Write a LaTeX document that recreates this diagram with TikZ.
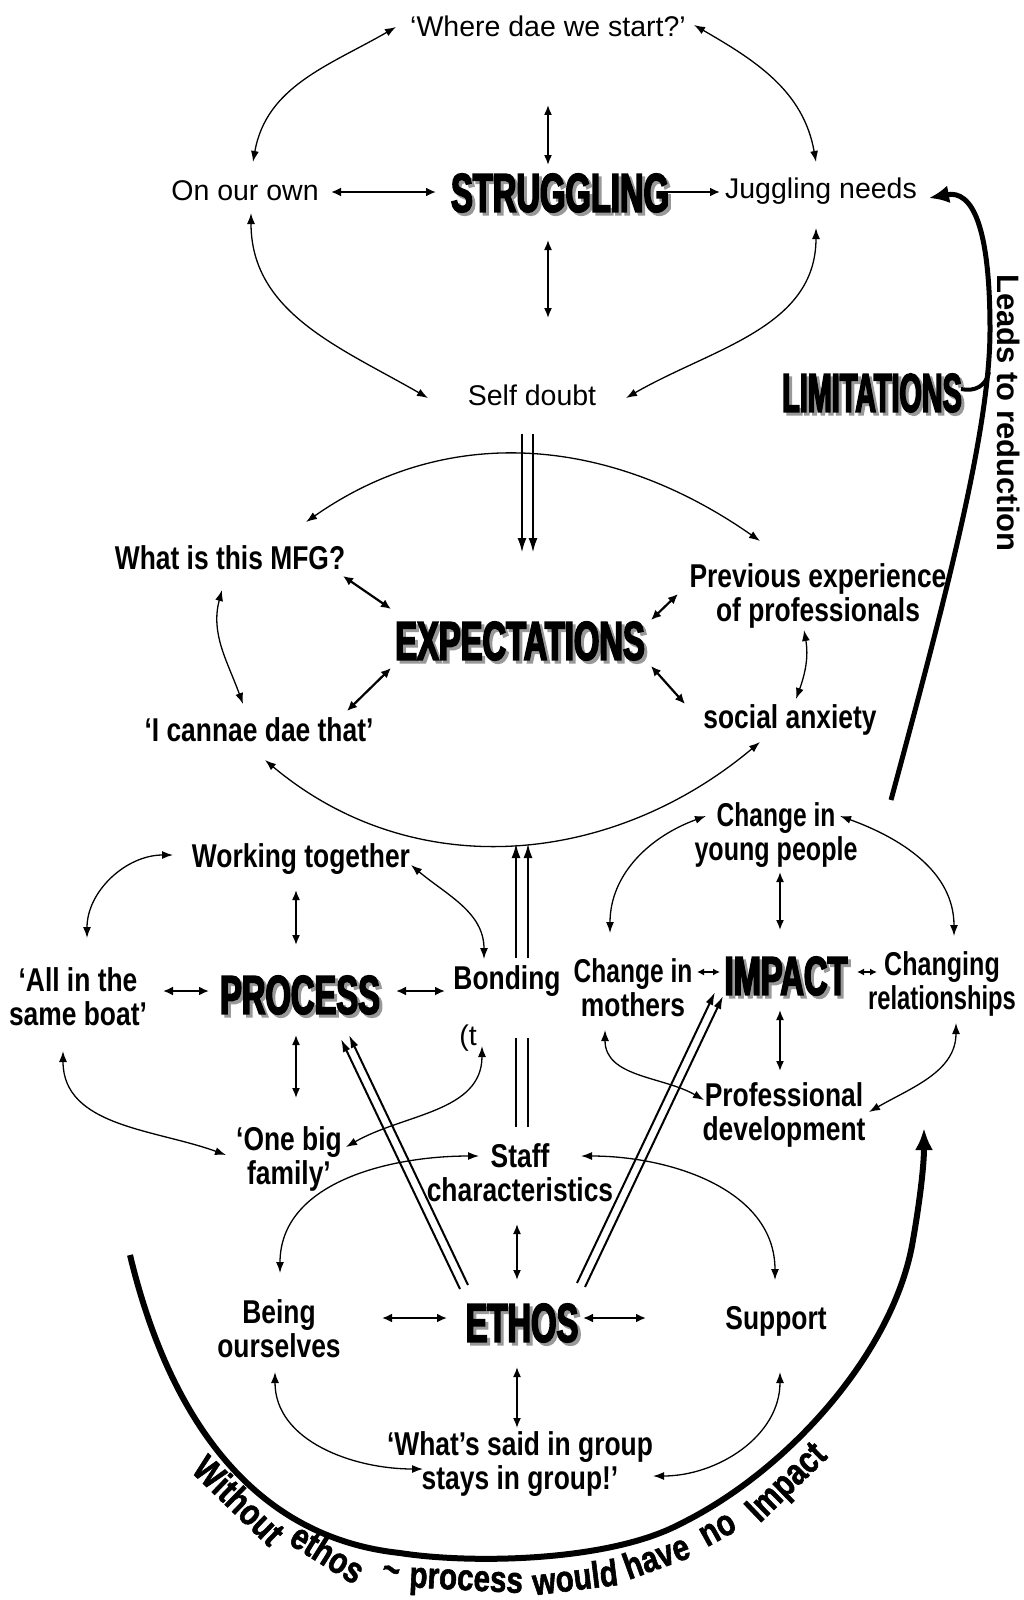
\documentclass[tikz,border=0pt]{standalone}
\usepackage{fontspec}
\usepackage{graphicx}
\setmainfont{Liberation Sans}
\newfontfamily\topfamily{Liberation Sans}
\newfontfamily\midfamily{Liberation Sans}[FakeStretch=0.8]
\newfontfamily\arcfamily{Liberation Sans}[FakeStretch=0.8,BoldFeatures={FakeBold=1.5}]
\newfontfamily\headfamily{Liberation Sans}[FakeStretch=0.6,BoldFeatures={FakeBold=3}]
\usetikzlibrary{arrows.meta}
\begin{document}
\begin{tikzpicture}[x=1pt,y=-1pt,
  toplab/.style={font=\topfamily\fontsize{28.5}{32}\selectfont, inner sep=0pt, align=center},
  midlab/.style={font=\midfamily\bfseries\fontsize{33}{34}\selectfont, inner sep=0pt, align=center},
  arcword/.style={font=\arcfamily\bfseries\fontsize{37}{38}\selectfont, inner sep=0pt},
  hd/.style={font=\headfamily\bfseries\fontsize{54.5}{56}\selectfont, inner sep=0pt},
  hdsh/.style={hd, text=black!40},
  curv/.style={line width=1.3pt, {Latex[length=11pt,width=8pt]}-{Latex[length=11pt,width=8pt]}},
  sarr/.style={line width=2.2pt, {Latex[length=10pt,width=9pt]}-{Latex[length=10pt,width=9pt]}},
  sone/.style={line width=2.2pt, -{Latex[length=10pt,width=9pt]}},
  varr/.style={line width=1.6pt, {Latex[length=10pt,width=8pt]}-{Latex[length=10pt,width=8pt]}},
  dbl/.style={line width=2.6pt, -{Latex[length=15pt,width=9pt]}},
  dbln/.style={line width=2.6pt},
  twin/.style={line width=2pt, -{Latex[length=13pt,width=8pt]}},
  thickarr/.style={line width=5pt, -{Latex[length=20pt,width=18pt]}},
  bigarr/.style={line width=6pt, -{Latex[length=22pt,width=18pt]}}
]
\fill[white] (0,0) rectangle (1024,1600);
\useasboundingbox (0,0) rectangle (1024,1600);

% ---------- STRUGGLING cluster ----------
\node[toplab] (W) at (548,26) {‘Where dae we start?’};
\node[toplab] (Own) at (245,191) {On our own};
\node[hdsh] at (563,196) {STRUGGLING};
\node[hd] (STR) at (560,193) {STRUGGLING};
\node[toplab] (Jug) at (821,191) {Juggling needs};
\node[toplab] (Self) at (532,395) {Self doubt};
\node[hdsh] at (875,396) {\scalebox{0.88}[1]{LIMITATIONS}};
\node[hd] (LIM) at (872,393) {\scalebox{0.88}[1]{LIMITATIONS}};

\draw[curv] ([shift={(-152,1)}]W.center) to[out=210,in=80] ([shift={(8,-29)}]Own.center);
\draw[curv] ([shift={(146,-1)}]W.center) to[out=-30,in=100] ([shift={(-5,-29)}]Jug.center);
\draw[curv] ([shift={(6,22)}]Own.center) to[out=270,in=150] ([shift={(-104,3)}]Self.center);
\draw[curv] ([shift={(-5,37)}]Jug.center) to[out=270,in=30] ([shift={(94,3)}]Self.center);
\draw[varr] ([shift={(-12,-28)}]STR.center) -- ([shift={(0,79)}]W.center);
\draw[varr] ([shift={(-12,47)}]STR.center) -- ([shift={(16,-77)}]Self.center);
\draw[sarr] ([shift={(86,1)}]Own.center) -- ([shift={(-124,-1)}]STR.center);
\draw[sone] ([shift={(108,-1)}]STR.center) -- ([shift={(-101,1)}]Jug.center);

% ---------- EXPECTATIONS cluster ----------
\node[midlab] (MFG) at (230,558) {What is this MFG?};
\node[midlab] (Prev) at (818,596) {Previous experience\\of professionals};
\node[hdsh] at (523,644) {EXPECTATIONS};
\node[hd] (EXP) at (520,641) {EXPECTATIONS};
\node[midlab] (Can) at (259,730) {‘I cannae dae that’};
\node[midlab] (Soc) at (790,720) {social anxiety};

\draw[curv] ([shift={(76,-36)}]MFG.center) to[out=35,in=145] ([shift={(-58,-55)}]Prev.center);
\draw[curv] ([shift={(6,30)}]Can.center) to[out=-40,in=220] ([shift={(-30,22)}]Soc.center);
\draw[curv] ([shift={(-8,32)}]MFG.center) to[out=255,in=110] ([shift={(-16,-26)}]Can.center);
\draw[curv] ([shift={(-14,34)}]Prev.center) to[out=280,in=70] ([shift={(6,-21)}]Soc.center);
\draw[sarr] ([shift={(113,18)}]MFG.center) -- ([shift={(-129,-32)}]EXP.center);
\draw[sarr] ([shift={(88,-19)}]Can.center) -- ([shift={(-129,27)}]EXP.center);
\draw[sarr] ([shift={(-140,-2)}]Prev.center) -- ([shift={(131,-21)}]EXP.center);
\draw[sarr] ([shift={(131,25)}]EXP.center) -- ([shift={(-105,-16)}]Soc.center);

\draw[dbl] ([shift={(-10,39)}]Self.center) -- ([shift={(2,-88)}]EXP.center);
\draw[dbl] ([shift={(1,39)}]Self.center) -- ([shift={(13,-88)}]EXP.center);

% ---------- PROCESS cluster ----------
\node[midlab] (Work) at (301,859) {Working together};
\node[midlab] (All) at (78,997) {‘All in the\\same boat’};
\node[hdsh] at (303,998) {PROCESS};
\node[hd] (PROC) at (300,995) {PROCESS};
\node[midlab] (Bond) at (507,981) {Bonding};
\node[toplab] (tt) at (468,1038) {(t};
\node[midlab] (One) at (289,1159) {‘One big\\family’};
\node[midlab] (Staff) at (520,1173) {Staff\\characteristics};

\draw[curv] ([shift={(-128,-4)}]Work.center) to[out=180,in=90] ([shift={(9,-59)}]All.center);
\draw[curv] ([shift={(110,6)}]Work.center) to[out=-40,in=90] ([shift={(-23,-22)}]Bond.center);
\draw[curv] ([shift={(-15,54)}]All.center) to[out=270,in=160] ([shift={(-63,-4)}]One.center);
\draw[curv] ([shift={(-25,65)}]Bond.center) to[out=270,in=30] ([shift={(57,-12)}]One.center);
\draw[varr] ([shift={(-5,31)}]Work.center) -- ([shift={(-4,-50)}]PROC.center);
\draw[varr] ([shift={(-4,40)}]PROC.center) -- ([shift={(7,-61)}]One.center);
\draw[sarr] ([shift={(85,-6)}]All.center) -- ([shift={(-91,-4)}]PROC.center);
\draw[sarr] ([shift={(96,-4)}]PROC.center) -- ([shift={(-62,10)}]Bond.center);

% Staff -> Expectations (broken double line)
\draw[dbln] ([shift={(-4,-46)}]Staff.center) -- ([shift={(9,57)}]Bond.center);
\draw[dbln] ([shift={(8,-46)}]Staff.center) -- ([shift={(21,57)}]Bond.center);
\draw[dbl] ([shift={(9,-23)}]Bond.center) -- ([shift={(-4,202)}]EXP.center);
\draw[dbl] ([shift={(21,-23)}]Bond.center) -- ([shift={(8,202)}]EXP.center);

% ---------- IMPACT cluster ----------
\node[midlab] (CYP) at (776,835) {\scalebox{0.93}[1]{Change in}\\\scalebox{0.95}[1]{young people}};
\node[midlab] (CM) at (633,988) {\scalebox{0.93}[1]{Change in}\\mothers};
\node[hdsh] at (789,979) {IMPACT};
\node[hd] (IMP) at (786,976) {IMPACT};
\node[midlab] (CR) at (942,984) {\scalebox{0.95}[1]{Changing}\\\scalebox{0.9}[1]{relationships}};
\node[midlab] (PD) at (784,1115) {Professional\\development};

\draw[curv] ([shift={(-70,-19)}]CYP.center) to[out=200,in=90] ([shift={(-23,-55)}]CM.center);
\draw[curv] ([shift={(64,-19)}]CYP.center) to[out=-20,in=90] ([shift={(12,-48)}]CR.center);
\draw[curv] ([shift={(-28,42)}]CM.center) to[out=270,in=150] ([shift={(-80,-15)}]PD.center);
\draw[curv] ([shift={(14,39)}]CR.center) to[out=270,in=30] ([shift={(85,-3)}]PD.center);
\draw[varr] ([shift={(4,37)}]CYP.center) -- ([shift={(-6,-46)}]IMP.center);
\draw[varr] ([shift={(-6,34)}]IMP.center) -- ([shift={(-4,-44)}]PD.center);
\draw[line width=1.6pt, {Latex[length=7pt,width=7pt]}-{Latex[length=7pt,width=7pt]}] ([shift={(64,-16)}]CM.center) -- ([shift={(-66,-4)}]IMP.center);
\draw[line width=1.6pt, {Latex[length=7pt,width=7pt]}-{Latex[length=7pt,width=7pt]}] ([shift={(71,-4)}]IMP.center) -- ([shift={(-65,-12)}]CR.center);

% ---------- ETHOS cluster ----------
\node[midlab] (Being) at (279,1329) {Being\\ourselves};
\node[hdsh] at (525,1326) {ETHOS};
\node[hd] (ETH) at (522,1323) {ETHOS};
\node[midlab] (Sup) at (776,1321) {Support};
\node[midlab] (What) at (520,1464) {‘What’s said in group\\stays in group!’};

\draw[curv] ([shift={(-41,-17)}]Staff.center) to[out=180,in=90] ([shift={(1,-56)}]Being.center);
\draw[curv] ([shift={(61,-17)}]Staff.center) to[out=0,in=90] ([shift={(-1,-41)}]Sup.center);
\draw[curv] ([shift={(-4,43)}]Being.center) to[out=270,in=180] ([shift={(-97,5)}]What.center);
\draw[curv] ([shift={(4,51)}]Sup.center) to[out=270,in=0] ([shift={(133,12)}]What.center);
\draw[varr] ([shift={(-3,51)}]Staff.center) -- ([shift={(-5,-43)}]ETH.center);
\draw[varr] ([shift={(-5,44)}]ETH.center) -- ([shift={(-3,-36)}]What.center);
\draw[sarr] ([shift={(103,-11)}]Being.center) -- ([shift={(-75,-5)}]ETH.center);
\draw[sarr] ([shift={(61,-5)}]ETH.center) -- ([shift={(-130,-3)}]Sup.center);

% ETHOS -> PROCESS and ETHOS -> IMPACT (twin lines)
\draw[twin] ([shift={(-62,-34)}]ETH.center) -- ([shift={(41,44)}]PROC.center);
\draw[twin] ([shift={(-54,-38)}]ETH.center) -- ([shift={(49,40)}]PROC.center);
\draw[twin] ([shift={(55,-40)}]ETH.center) -- ([shift={(-71,16)}]IMP.center);
\draw[twin] ([shift={(63,-36)}]ETH.center) -- ([shift={(-63,20)}]IMP.center);

% ---------- Limitations feedback line ----------
\draw[thickarr] ([shift={(115,-35)}]CYP.center) .. controls (945,600) and (990,430) .. (990,330) .. controls (990,225) and (972,190) .. ([shift={(108,7)}]Jug.center);
\coordinate (LJ) at (989,372);
\draw[line width=4pt] ([shift={(89,-4)}]LIM.center) .. controls (975,392) and (986,386) .. (LJ);
\node[rotate=-90, font=\topfamily\bfseries\fontsize{31}{32}\selectfont, inner sep=0pt] (LTR) at (1009,413) {Leads to reduction};

% ---------- bottom arc ----------
\coordinate (ArcL) at (130,1255);
\draw[bigarr] (ArcL) .. controls (160,1380) and (230,1535) .. (400,1553)
  .. controls (470,1564) and (608,1562) .. (680,1524)
  .. controls (790,1470) and (895,1350) .. (913,1240)
  .. controls (920,1200) and (924,1165) .. ([shift={(140,13)}]PD.center);
\node[arcword, rotate=-44] (aw1) at (239,1500) {Without};
\node[arcword, rotate=-32] (aw2) at (328,1553) {ethos};
\node[arcword, rotate=-18] (aw3) at (390,1574) {\textasciitilde};
\node[arcword, rotate=-3] (aw4) at (466,1584) {process};
\node[arcword, rotate=7] (aw5) at (575,1577) {would};
\node[arcword, rotate=20] (aw6) at (656,1556) {have};
\node[arcword, rotate=29] (aw7) at (718,1530) {no};
\node[arcword, rotate=44] (aw8) at (788,1484) {Impact};
\end{tikzpicture}
\end{document}
